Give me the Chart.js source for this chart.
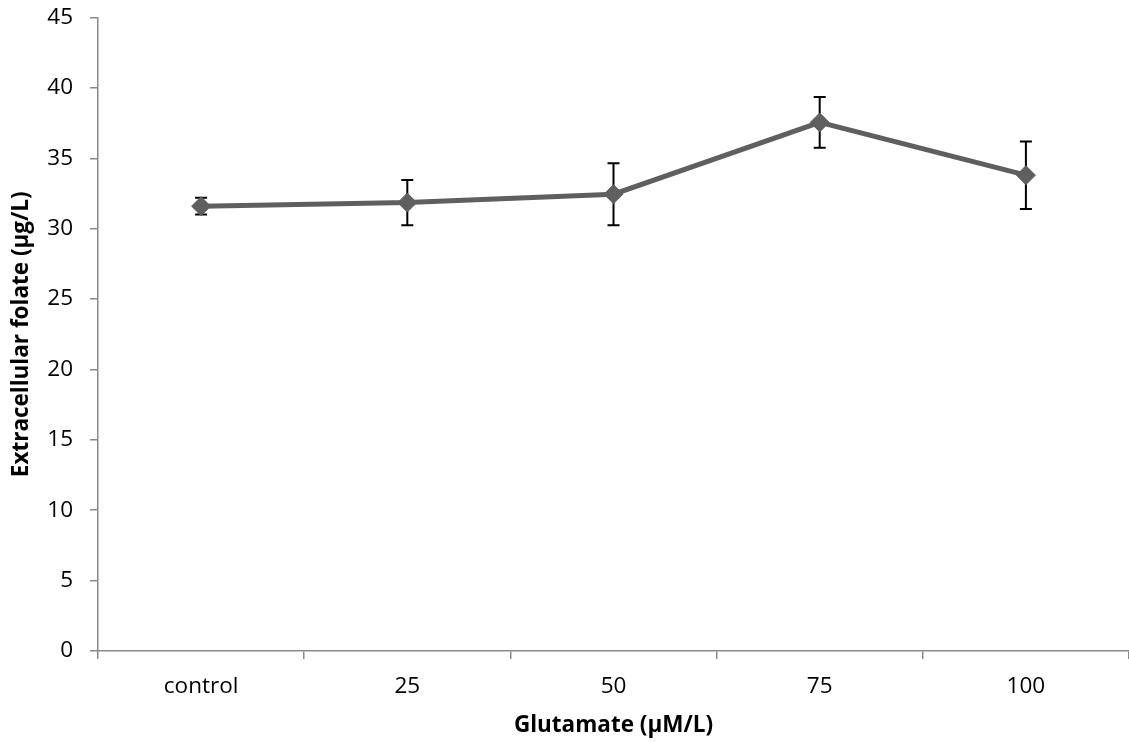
<!DOCTYPE html>
<html>
<head>
<meta charset="utf-8">
<script src="https://cdn.jsdelivr.net/npm/chart.js@4.4.1/dist/chart.umd.min.js"></script>
<style>
  html, body { margin: 0; padding: 0; background: #ffffff; overflow: hidden; }
  #chart { position: absolute; left: 0; top: 0; width: 1129px; height: 742px; }
</style>
</head>
<body>
<canvas id="chart" width="1129" height="742"></canvas>
<script>
// Glutamate concentrations (µM/L) and mean extracellular folate (µg/L)
const categories = ['control', '25', '50', '75', '100'];
const folateMean = [31.6, 31.85, 32.45, 37.55, 33.8];
// Error bar half-lengths (± SD)
const folateErr = [0.6, 1.6, 2.2, 1.8, 2.4];
// Y-axis range and step
const yMin = 0;
const yMax = 45;
const yStep = 5;

const FONT = '"Open Sans", Lato, sans-serif';
const AXIS_GREY = '#898989';
const LINE_GREY = '#5f5f5f';

// Draws vertical error bars with caps beneath the markers
const errorBars = {
  id: 'errorBars',
  beforeDatasetsDraw(chart) {
    const { ctx, scales: { x, y } } = chart;
    ctx.save();
    ctx.strokeStyle = '#000000';
    ctx.lineWidth = 2;
    const cap = 6;
    folateMean.forEach((v, i) => {
      const px = x.getPixelForValue(i);
      const top = y.getPixelForValue(v + folateErr[i]);
      const bot = y.getPixelForValue(v - folateErr[i]);
      ctx.beginPath();
      ctx.moveTo(px, top);
      ctx.lineTo(px, bot);
      ctx.moveTo(px - cap, top);
      ctx.lineTo(px + cap, top);
      ctx.moveTo(px - cap, bot);
      ctx.lineTo(px + cap, bot);
      ctx.stroke();
    });
    ctx.restore();
  }
};

// Keep the plot area edges fixed regardless of label overhang
function noLabelPadding(scale) {
  scale.paddingTop = 0;
  scale.paddingBottom = 0;
  scale.paddingLeft = 0;
  scale.paddingRight = 0;
}

new Chart(document.getElementById('chart'), {
  type: 'line',
  data: {
    labels: categories,
    datasets: [{
      data: folateMean,
      borderColor: LINE_GREY,
      backgroundColor: LINE_GREY,
      borderWidth: 5,
      pointStyle: 'rectRot',
      pointRadius: 9.5,
      pointBorderWidth: 1,
      pointBackgroundColor: LINE_GREY,
      pointBorderColor: LINE_GREY,
      tension: 0,
      fill: false,
      clip: false
    }]
  },
  options: {
    responsive: false,
    animation: false,
    devicePixelRatio: 1,
    layout: {
      autoPadding: false,
      padding: { top: 17.5, right: 0, bottom: 0, left: 0 }
    },
    plugins: {
      legend: { display: false },
      tooltip: { enabled: false }
    },
    scales: {
      x: {
        type: 'category',
        offset: true,
        grid: {
          offset: true,
          drawOnChartArea: false,
          drawTicks: true,
          tickLength: 8,
          color: AXIS_GREY,
          lineWidth: 1.5
        },
        border: { color: AXIS_GREY, width: 1.5 },
        ticks: {
          color: '#000000',
          font: { family: FONT, size: 22.5 },
          padding: 14,
          maxRotation: 0
        },
        title: {
          display: true,
          text: 'Glutamate (µM/L)',
          color: '#000000',
          font: { family: FONT, size: 22.5, weight: 'bold' },
          padding: { top: 0, bottom: 3 }
        },
        afterFit(scale) { scale.height = 91; noLabelPadding(scale); }
      },
      y: {
        min: yMin,
        max: yMax,
        grid: {
          drawOnChartArea: false,
          drawTicks: true,
          tickLength: 8,
          color: AXIS_GREY,
          lineWidth: 1.5
        },
        border: { color: AXIS_GREY, width: 1.5 },
        ticks: {
          stepSize: yStep,
          color: '#000000',
          font: { family: FONT, size: 22.5 },
          padding: 17
        },
        title: {
          display: true,
          text: 'Extracellular folate (µg/L)',
          color: '#000000',
          font: { family: FONT, size: 22.5, weight: 'bold' },
          padding: { top: 8, bottom: 0 }
        },
        afterFit(scale) { scale.width = 98; noLabelPadding(scale); }
      }
    }
  },
  plugins: [errorBars]
});
</script>
</body>
</html>
